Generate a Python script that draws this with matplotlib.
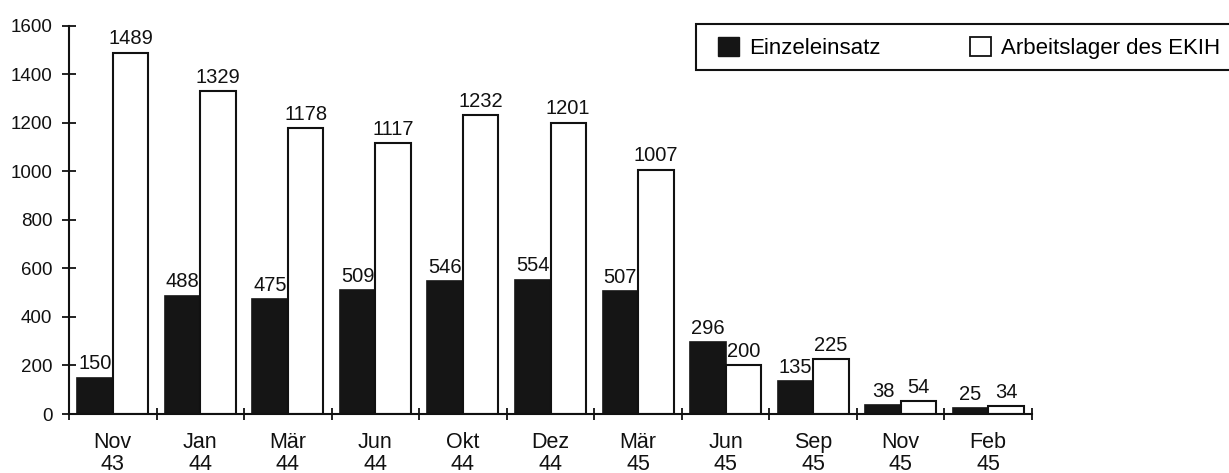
import matplotlib
matplotlib.use("Agg")
import matplotlib.pyplot as plt
import matplotlib.patches as mpatches
import numpy as np

categories = ["Nov\n43", "Jan\n44", "Mär\n44", "Jun\n44", "Okt\n44", "Dez\n44",
              "Mär\n45", "Jun\n45", "Sep\n45", "Nov\n45", "Feb\n45"]
einzeleinsatz = [150, 488, 475, 509, 546, 554, 507, 296, 135, 38, 25]
arbeitslager = [1489, 1329, 1178, 1117, 1232, 1201, 1007, 200, 225, 54, 34]
yticks = [0, 200, 400, 600, 800, 1000, 1200, 1400, 1600]
series_names = ["Einzeleinsatz", "Arbeitslager des EKIH"]

plt.rcParams['font.family'] = ['Liberation Sans', 'DejaVu Sans']
YFS = 13.5
VFS = 14.5
XFS = 15.5
LFS = 16
W, H = 1229, 473
fig = plt.figure(figsize=(W / 100, H / 100), dpi=100)
ax = fig.add_axes([69 / W, 1 - 414 / H, (1032 - 69) / W, (414 - 25.7) / H])

x = np.arange(len(categories))
bw = 0.405
b1 = ax.bar(x - bw / 2, einzeleinsatz, bw, color="#151515", edgecolor="#151515", linewidth=1.2)
b2 = ax.bar(x + bw / 2, arbeitslager, bw, color="white", edgecolor="#111111", linewidth=1.5)

for rects, vals in ((b1, einzeleinsatz), (b2, arbeitslager)):
    for r, v in zip(rects, vals):
        ax.annotate(str(v), (r.get_x() + r.get_width() / 2, r.get_height()),
                    xytext=(0, 3), textcoords="offset points", ha="center", va="bottom",
                    fontsize=VFS, color="#111111")

ax.set_xlim(-0.5, len(categories) - 0.5)
ax.set_ylim(0, 1600)
ax.set_yticks(yticks)
ax.set_yticklabels([str(t) for t in yticks], fontsize=YFS, color="#111111")
ax.set_xticks(np.arange(len(categories) + 1) - 0.5)
ax.set_xticklabels([])
ax.set_xticks(x, minor=True)
ax.set_xticklabels(categories, minor=True, fontsize=XFS, color="#111111", linespacing=1.08)
ax.tick_params(axis="x", which="major", direction="inout", length=9, width=1.3, color="#111111")
ax.tick_params(axis="x", which="minor", length=0, pad=13)
ax.tick_params(axis="y", direction="inout", length=10, width=1.3, color="#111111", pad=7)
for s in ("top", "right"):
    ax.spines[s].set_visible(False)
for s in ("left", "bottom"):
    ax.spines[s].set_linewidth(1.5)
    ax.spines[s].set_color("#111111")

# legend frame
frame = mpatches.Rectangle((696 / W, 1 - 70 / H), (1240 - 696) / W, 46 / H,
                           transform=fig.transFigure, facecolor="white", edgecolor="#111111",
                           linewidth=1.5, clip_on=False)
fig.patches.append(frame)
h1 = mpatches.Patch(facecolor="#151515", edgecolor="#151515")
h2 = mpatches.Patch(facecolor="white", edgecolor="#111111", linewidth=1.3)
fig.legend([h1, h2], series_names, loc="center left",
           bbox_to_anchor=(718 / W, 1 - 48 / H), ncol=2, frameon=False, fontsize=LFS,
           borderpad=0, handlelength=0.95, handleheight=0.95, handletextpad=0.45,
           columnspacing=4.0, borderaxespad=0)

fig.savefig("out.png", dpi=100, facecolor="white")
